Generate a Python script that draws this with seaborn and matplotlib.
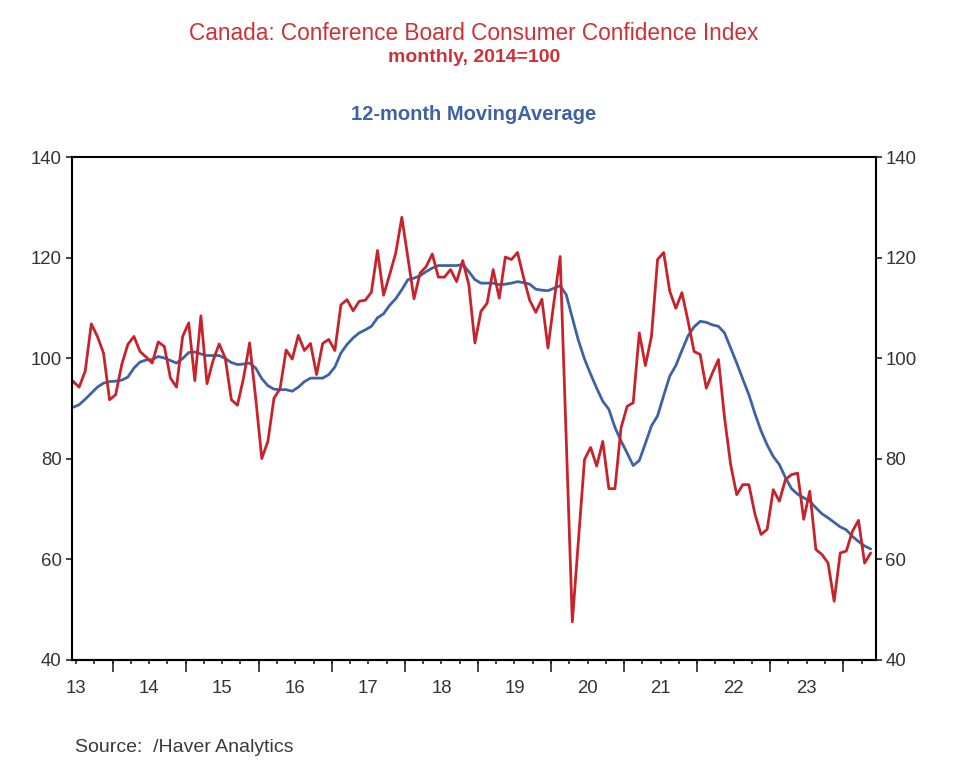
import numpy as np
import pandas as pd
import matplotlib
matplotlib.use("Agg")
import matplotlib.pyplot as plt
import seaborn as sns
from matplotlib import font_manager


months = pd.period_range("2013-05", "2024-05", freq="M")

confidence = [
    91.5, 95.4, 94.2, 97.4, 106.8, 104.3, 101.0, 91.7,                        # 2013 May-Dec
    92.7, 98.7, 102.7, 104.3, 101.3, 100.2, 99.0, 103.2, 102.3, 96.0, 94.2, 104.3,   # 2014
    107.0, 95.5, 108.4, 94.9, 99.5, 102.8, 100.0, 91.7, 90.6, 96.0, 103.0, 92.0,     # 2015
    80.0, 83.4, 92.0, 93.9, 101.6, 99.8, 104.5, 101.5, 102.9, 96.7, 102.9, 103.7,    # 2016
    101.5, 110.6, 111.6, 109.4, 111.3, 111.5, 113.1, 121.4, 112.5, 116.6, 120.9, 128.0,  # 2017
    119.9, 111.8, 116.9, 118.2, 120.7, 116.1, 116.1, 117.6, 115.2, 119.4, 114.6, 103.0,  # 2018
    109.3, 110.9, 117.6, 111.9, 120.1, 119.6, 121.0, 116.0, 111.5, 109.1, 111.7, 102.0,  # 2019
    111.3, 120.2, 84.0, 47.5, 63.6, 79.8, 82.2, 78.5, 83.4, 74.0, 74.0, 86.1,        # 2020
    90.4, 91.1, 105.0, 98.5, 104.3, 119.6, 121.0, 113.3, 109.9, 113.0, 107.4, 101.3,  # 2021
    100.7, 94.0, 97.0, 99.7, 88.1, 78.8, 72.8, 74.8, 74.8, 68.9, 64.9, 65.9,         # 2022
    73.8, 71.5, 75.8, 76.8, 77.1, 67.9, 73.5, 61.9, 60.9, 59.2, 51.6, 61.2,          # 2023
    61.6, 65.5, 67.7, 59.2, 61.2,                                                    # 2024 Jan-May
]

moving_avg = [
    89.5, 90.2, 90.7, 91.8, 93.0, 94.2, 95.0, 95.3,
    95.4, 95.6, 96.2, 98.0, 99.2, 99.6, 99.7, 100.3, 100.0, 99.5, 99.0, 99.9,
    101.1, 101.2, 100.8, 100.5, 100.5, 100.5, 99.9, 99.1, 98.7, 98.8, 99.0, 98.0,
    95.9, 94.5, 93.8, 93.7, 93.7, 93.4, 94.2, 95.3, 96.0, 96.0, 96.0, 96.7,
    98.2, 101.0, 102.7, 104.0, 105.0, 105.6, 106.3, 108.0, 108.8, 110.5, 111.8, 113.6,
    115.6, 115.9, 116.4, 117.2, 117.9, 118.4, 118.4, 118.4, 118.4, 118.6, 117.2, 115.6,
    114.9, 114.9, 114.9, 114.6, 114.7, 114.9, 115.2, 115.0, 114.7, 113.7, 113.5, 113.4,
    113.9, 114.4, 112.6, 108.0, 103.5, 99.8, 96.8, 94.0, 91.4, 89.8, 86.2, 83.5,
    81.1, 78.6, 79.6, 83.0, 86.5, 88.5, 92.5, 96.4, 98.5, 101.5, 104.4, 106.2,
    107.3, 107.1, 106.6, 106.3, 105.0, 102.0, 99.0, 95.8, 92.7, 88.9, 85.5, 82.7,
    80.4, 78.8, 76.2, 74.0, 72.9, 72.2, 71.5, 70.2, 69.0, 68.2, 67.3, 66.4,
    65.8, 64.5, 63.5, 62.6, 62.0,
]

years = list(range(2013, 2024))
year_labels = ["13", "14", "15", "16", "17", "18", "19", "20", "21", "22", "23"]
y_ticks = [40, 60, 80, 100, 120, 140]

red = "#c8232b"
blue = "#3d62a6"

df = pd.DataFrame({
    "t": months.year + (months.month - 0.5) / 12,
    "Index": confidence,
    "MA": moving_avg,
})

sns.set_style("ticks")
available = {f.name for f in font_manager.fontManager.ttflist}
narrow = "Liberation Sans Narrow" in available
plt.rcParams["font.family"] = ["Liberation Sans", "DejaVu Sans"]
tick_font = {"family": ["Liberation Sans Narrow", "Liberation Sans"] if narrow else ["Liberation Sans"],
             "size": 16 if narrow else 13.4}

fig = plt.figure(figsize=(9.6, 7.75), dpi=100)
ax = fig.add_axes([0.0745, 0.149, 0.8377, 0.6484])

sns.lineplot(data=df, x="t", y="MA", color=blue, linewidth=2.0, ax=ax)
sns.lineplot(data=df, x="t", y="Index", color=red, linewidth=2.0, ax=ax)

ax.set_xlim(2013.4376, 2024.444)
ax.set_ylim(40, 140)
ax.set_xlabel("")
ax.set_ylabel("")

for side in ["left", "right", "top", "bottom"]:
    ax.spines[side].set_visible(True)
    ax.spines[side].set_color("black")
    ax.spines[side].set_linewidth(1.5)

# y axis, labelled both sides
ax.set_yticks(y_ticks)
ax.tick_params(axis="y", left=True, right=True, labelleft=True, labelright=True,
               direction="out", length=4.5, width=1.2, pad=2.5)
for lab in ax.get_yticklabels():
    lab.set_fontproperties(font_manager.FontProperties(**tick_font))
    lab.set_color("#333333")

# x axis: year labels at mid-year, quarter ticks, long ticks at year ends
ax.xaxis.remove_overlapping_locs = False
ax.set_xticks([y + 0.5 for y in years])
ax.set_xticklabels(year_labels)
ax.set_xticks(np.arange(2013.5, 2024.5, 0.25), minor=True)
ax.tick_params(axis="x", which="major", length=0, pad=15)
ax.tick_params(axis="x", which="minor", direction="out", length=3, width=1.2)
for lab in ax.get_xticklabels():
    lab.set_fontproperties(font_manager.FontProperties(**tick_font))
    lab.set_color("#333333")

sec = ax.secondary_xaxis("bottom")
sec.set_xticks(list(range(2014, 2025)))
sec.tick_params(axis="x", direction="out", length=8.5, width=1.2, labelbottom=False)
sec.spines["bottom"].set_linewidth(1.5)

# titles
cx = 0.4934
fig.text(cx, 1 - 33 / 775, "Canada: Conference Board Consumer Confidence Index",
         ha="center", va="center", color="#cf3035", fontsize=16.3)
fig.text(cx, 1 - 58 / 775, "monthly, 2014=100", ha="center", va="center",
         color="#cf3035", fontsize=14, fontweight="bold")
fig.text(cx, 1 - 115 / 775, "12-month MovingAverage", ha="center", va="center",
         color=blue, fontsize=14.5, fontweight="bold")

src_font = {"family": ["Liberation Sans Narrow", "Liberation Sans"] if narrow else ["Liberation Sans"],
            "size": 16.5 if narrow else 14}
fig.text(75 / 960, 1 - 747 / 775, "Source:  /Haver Analytics", ha="left", va="center",
         color="#3a3a3a", fontproperties=font_manager.FontProperties(**src_font))

fig.savefig("out.png", dpi=100)
